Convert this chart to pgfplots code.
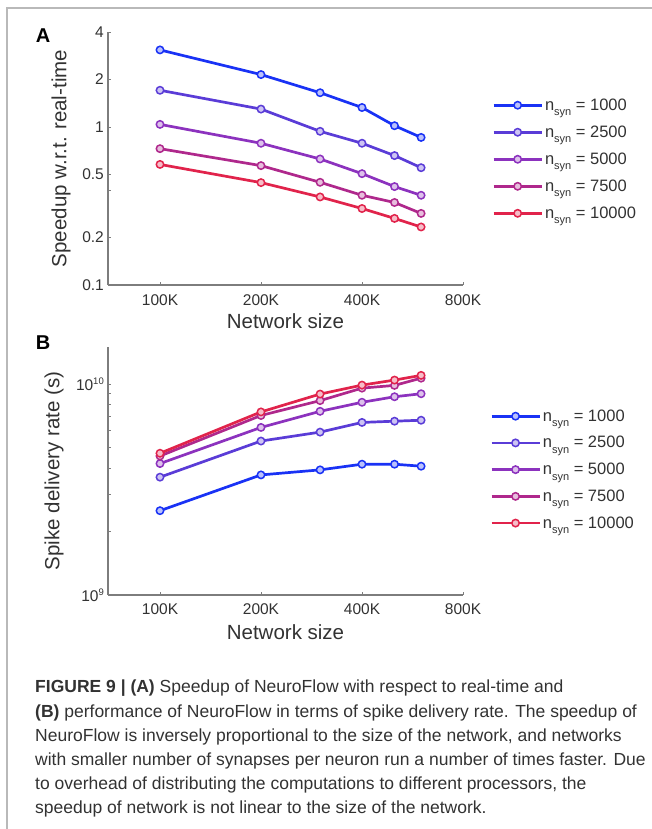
\documentclass[border=0pt]{standalone}
\usepackage{fontspec}
\setmainfont{Liberation Sans}
\usepackage{pgfplots}
\pgfplotsset{compat=1.18}

\definecolor{cA}{RGB}{25,50,245}
\definecolor{cB}{RGB}{90,60,215}
\definecolor{cC}{RGB}{140,50,190}
\definecolor{cD}{RGB}{175,40,140}
\definecolor{cE}{RGB}{225,35,75}
\definecolor{axisgray}{RGB}{125,125,125}
\definecolor{txt}{RGB}{50,50,50}

\newcommand{\nsyn}[1]{n\raisebox{-5.5pt}{\fontsize{11}{11}\selectfont syn} = #1}
\newcommand{\tenpow}[1]{10\raisebox{6pt}{\fontsize{9.5}{9.5}\selectfont #1}}

\begin{document}
\begin{tikzpicture}
\path[use as bounding box] (0pt,0pt) rectangle (652pt,829pt);
\draw[gray!55, line width=1.2pt] (7pt,0pt) -- (7pt,821pt) -- (652pt,821pt);

\node[font=\fontsize{20}{20}\selectfont\bfseries, text=black] at (43pt,793pt) {A};
\node[font=\fontsize{20}{20}\selectfont\bfseries, text=black] at (43pt,486pt) {B};

% panel A: speedup
\begin{axis}[at={(108pt,544pt)}, anchor=south west,
  scale only axis, width=355pt, height=253pt,
  xmode=log, log basis x=2, xmin=70, xmax=800,
  xtick={100,200,400,800}, xticklabels={100K,200K,400K,800K},
  ymode=log, ymin=0.1, ymax=4,
  ytick={0.1,0.2,0.5,1,2,4}, yticklabels={0.1,0.2,0.5,1,2,4},
  minor ytick={0.4},
  axis x line=bottom, axis y line=left,
  axis line style={-, draw=axisgray, line width=1.2pt},
  tick style={draw=axisgray, line width=0.8pt},
  tick align=inside, major tick length=3pt, minor tick length=2.5pt,
  tick label style={font=\fontsize{15.5}{16}\selectfont, text=txt},
  xticklabel style={anchor=base, yshift=-21pt},
  yticklabel style={anchor=east, inner sep=0pt, xshift=-4pt},
  xlabel={Network size},
  xlabel style={at={(axis description cs:0.5,-0.170)}, anchor=base,
    font=\fontsize{20.5}{22}\selectfont, text=txt},
  ylabel={Speedup w.r.t. real-time},
  ylabel style={at={(axis description cs:-0.132,0.5)}, anchor=center,
    font=\fontsize{20.5}{22}\selectfont, text=txt},
  legend style={at={(axis description cs:1.082,0.745)}, anchor=north west,
    draw=none, fill=none, font=\fontsize{16.5}{17}\selectfont, text=txt,
    row sep=10pt, inner sep=0pt},
  legend cell align=left,
  legend image code/.code={\draw[mark repeat=2,mark phase=2]
    plot coordinates {(0pt,0pt) (24pt,0pt) (48pt,0pt)};},
]
\addplot[color=cA, line width=2.7pt, mark=*, mark size=3.7pt, mark options={fill=cA!30!white, line width=1.5pt}]
  coordinates {(100,3.08) (200,2.15) (300,1.65) (400,1.33) (500,1.02) (600,0.86)};
\addlegendentry{\nsyn{1000}}
\addplot[color=cB, line width=2.7pt, mark=*, mark size=3.7pt, mark options={fill=cB!30!white, line width=1.5pt}]
  coordinates {(100,1.71) (200,1.30) (300,0.94) (400,0.79) (500,0.66) (600,0.553)};
\addlegendentry{\nsyn{2500}}
\addplot[color=cC, line width=2.7pt, mark=*, mark size=3.7pt, mark options={fill=cC!30!white, line width=1.5pt}]
  coordinates {(100,1.04) (200,0.79) (300,0.628) (400,0.507) (500,0.42) (600,0.37)};
\addlegendentry{\nsyn{5000}}
\addplot[color=cD, line width=2.7pt, mark=*, mark size=3.7pt, mark options={fill=cD!30!white, line width=1.5pt}]
  coordinates {(100,0.73) (200,0.57) (300,0.447) (400,0.37) (500,0.333) (600,0.284)};
\addlegendentry{\nsyn{7500}}
\addplot[color=cE, line width=2.7pt, mark=*, mark size=3.7pt, mark options={fill=cE!30!white, line width=1.5pt}]
  coordinates {(100,0.58) (200,0.445) (300,0.361) (400,0.305) (500,0.264) (600,0.233)};
\addlegendentry{\nsyn{10000}}
\end{axis}

% panel B: spike delivery rate
\begin{axis}[at={(108pt,234pt)}, anchor=south west,
  scale only axis, width=355pt, height=248pt,
  xmode=log, log basis x=2, xmin=70, xmax=800,
  xtick={100,200,400,800}, xticklabels={100K,200K,400K,800K},
  ymode=log, ymin=1e9, ymax=1.5e10,
  ytick={1e9,1e10}, yticklabels={\tenpow{9},\tenpow{10}},
  minor ytick={2e9,3e9,4e9,5e9,6e9,7e9,8e9,9e9},
  axis x line=bottom, axis y line=left,
  axis line style={-, draw=axisgray, line width=1.2pt},
  tick style={draw=axisgray, line width=0.8pt},
  tick align=inside, major tick length=3pt, minor tick length=2.5pt,
  tick label style={font=\fontsize{15.5}{16}\selectfont, text=txt},
  xticklabel style={anchor=base, yshift=-20pt},
  yticklabel style={anchor=east, inner sep=0pt, xshift=-4pt},
  xlabel={Network size},
  xlabel style={at={(axis description cs:0.5,-0.180)}, anchor=base,
    font=\fontsize{20.5}{22}\selectfont, text=txt},
  ylabel={Spike delivery rate (s)},
  ylabel style={at={(axis description cs:-0.152,0.5)}, anchor=center,
    font=\fontsize{20.5}{22}\selectfont, text=txt},
  legend style={at={(axis description cs:1.076,0.756)}, anchor=north west,
    draw=none, fill=none, font=\fontsize{16.5}{17}\selectfont, text=txt,
    row sep=9.7pt, inner sep=0pt},
  legend cell align=left,
  legend image code/.code={\draw[mark repeat=2,mark phase=2]
    plot coordinates {(0pt,0pt) (24pt,0pt) (48pt,0pt)};},
]
\addplot[color=cA, line width=2.7pt, mark=*, mark size=3.7pt, mark options={fill=cA!30!white, line width=1.5pt}]
  coordinates {(100,2.51e9) (200,3.71e9) (300,3.92e9) (400,4.17e9) (500,4.17e9) (600,4.08e9)};
\addlegendentry{\nsyn{1000}}
\addplot[color=cB, line width=2.7pt, mark=*, mark size=3.7pt, mark options={fill=cB!30!white, line width=1.5pt}]
  coordinates {(100,3.62e9) (200,5.37e9) (300,5.92e9) (400,6.58e9) (500,6.67e9) (600,6.74e9)};
\addlegendentry{\nsyn{2500}}
\addplot[color=cC, line width=2.7pt, mark=*, mark size=3.7pt, mark options={fill=cC!30!white, line width=1.5pt}]
  coordinates {(100,4.20e9) (200,6.23e9) (300,7.43e9) (400,8.20e9) (500,8.71e9) (600,9.0e9)};
\addlegendentry{\nsyn{5000}}
\addplot[color=cD, line width=2.7pt, mark=*, mark size=3.7pt, mark options={fill=cD!30!white, line width=1.5pt}]
  coordinates {(100,4.56e9) (200,7.10e9) (300,8.35e9) (400,9.57e9) (500,9.86e9) (600,1.067e10)};
\addlegendentry{\nsyn{7500}}
\addplot[color=cE, line width=2.7pt, mark=*, mark size=3.7pt, mark options={fill=cE!30!white, line width=1.5pt}]
  coordinates {(100,4.70e9) (200,7.38e9) (300,8.97e9) (400,9.89e9) (500,1.045e10) (600,1.10e10)};
\addlegendentry{\nsyn{10000}}
\end{axis}

% caption
\begin{scope}[every node/.style={anchor=base west, inner sep=0pt, text=txt,
    font=\fontsize{17.5}{20}\selectfont}]
\node at (35pt,136.0pt) {\textbf{FIGURE 9 | (A)} Speedup of NeuroFlow with respect to real-time and};
\node at (35pt,111.8pt) {\textbf{(B)} performance of NeuroFlow in terms of spike delivery rate. The speedup of};
\node at (35pt,87.6pt) {NeuroFlow is inversely proportional to the size of the network, and networks};
\node at (35pt,63.4pt) {with smaller number of synapses per neuron run a number of times faster. Due};
\node at (35pt,39.2pt) {to overhead of distributing the computations to different processors, the};
\node at (35pt,15.0pt) {speedup of network is not linear to the size of the network.};
\end{scope}
\end{tikzpicture}
\end{document}
